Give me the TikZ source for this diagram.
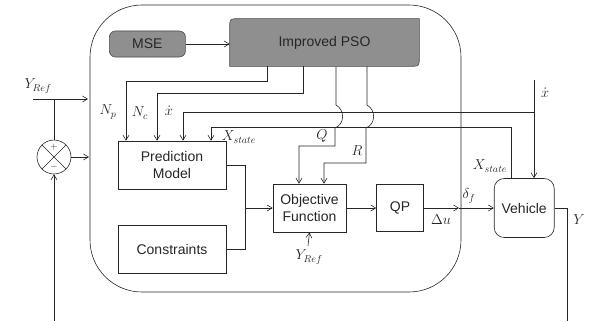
\documentclass[tikz,border=0pt]{standalone}
\usepackage{fontspec}
\setmainfont{Liberation Sans}
\usetikzlibrary{arrows.meta, positioning, calc}

\begin{document}
\begin{tikzpicture}[
		x=1pt, y=-1pt,
		every node/.style={font=\fontsize{14}{17}\selectfont},
		block/.style={draw, rectangle, align=center, inner sep=2pt},
		grey/.style={draw=black!70, fill=black!44},
		sumcirc/.style={draw, circle, minimum size=34pt, inner sep=0pt},
		arr/.style={-{Straight Barb[length=5pt,width=6pt]}},
		line width=0.6pt, black!85
		]
		\useasboundingbox (0,0) rectangle (593,321);
		% controller frame
		\draw[rounded corners=52pt] (90,5) rectangle (461,292);
		
		% blocks
		\node[minimum width=189pt, minimum height=47pt] at (324.5,42.5) (pso) {};
		\filldraw[grey] (pso.south west) -- ([yshift=-9pt]pso.north west) .. controls (pso.north west) .. ([xshift=9pt]pso.north west) -- (pso.north east) -- ([yshift=9pt]pso.south east) .. controls (pso.south east) .. ([xshift=-9pt]pso.south east) -- cycle;
		\node at (pso.center) (psotext) {Improved PSO};
		\node[grey, rounded corners=6pt, minimum width=76pt, minimum height=26pt, left = 44pt of pso, yshift=-1.5pt] (mse) {MSE};
		\node[block, minimum width=108pt, minimum height=48pt] at (172,165) (pred) {Prediction\\Model};
		\node[block, minimum width=108pt, minimum height=48pt, below = 36pt of pred] (cons) {Constraints};
		\node[block, minimum width=73pt, minimum height=48pt] at (309.5,208) (obj) {Objective\\Function};
		\node[block, minimum width=47pt, minimum height=47pt, right = 30pt of obj] (qp) {QP};
		\node[block, rounded corners=10pt, minimum width=60pt, minimum height=59pt, right = 70pt of qp] (veh) {Vehicle};
		\node[sumcirc] at (54,157) (sum) {};
		\draw (sum.north west) -- (sum.south east);
		\draw (sum.north east) -- (sum.south west);
		\node[font=\small, inner sep=0pt] at ([yshift=10pt]sum.center) (plus) {$+$};
		\node[font=\small, inner sep=0pt] at ([yshift=-10pt]sum.center) (minus) {$-$};
		
		% free ends
		\coordinate (yref) at (33,99);
		\coordinate (xin) at (534,80);
		\coordinate (yout) at (567,321);
		\coordinate (fb) at (54,321);
		\coordinate (merge) at (245,208);
		
		% reference and feedback
		\draw[arr] (yref) -- (88,99);
		\draw (54,99) -- (sum.north);
		\draw[arr] (sum.east) -- (89,157);
		\draw[arr] (fb) -- (sum.south);
		\draw (veh.east) -| (yout);
		
		% PSO parameters
		\draw[arr] (mse) -- (pso.west |- mse);
		\draw[arr] (267,0 |- pso.south) |- (126,81) -- (126,0 |- pred.north);
		\draw[arr] (303,0 |- pso.south) |- (157,93) -- (157,0 |- pred.north);
		\draw[arr] (336,0 |- pso.south) -- (336,105) .. controls (345,110) and (345,124) .. (335,128) |- (299,146) -- (299,0 |- obj.north);
		\draw[arr] (367,0 |- pso.south) -- (367,105) .. controls (376,110) and (376,124) .. (366,128) |- (324,163) -- (324,0 |- obj.north);
		
		% states
		\draw[arr] (xin) -- (534,0 |- veh.north);
		\draw[arr] (534,112) -| (183,0 |- pred.north);
		\draw[arr] (511,0 |- veh.north) |- (211,127) -- (211,0 |- pred.north);
		
		% main path
		\draw (pred.east) -| (merge);
		\draw (cons.east) -| (merge);
		\draw[arr] (merge) -- (obj.west);
		\draw[arr] (obj.east) -- (qp.west);
		\draw[arr] (qp.east) -- (459,208);
		\draw[arr] (459,208) -- (veh.west);
		\draw[arr] (308,246) -- (obj.south);
		
		% labels
		\node at (38,86) (lyref) {$Y_{Ref}$};
		\node at (108,112) (lnp) {$N_p$};
		\node at (140,113) (lnc) {$N_c$};
		\node at (169,111) (lxd) {$\dot{x}$};
		\node at (239,137) (lxs) {$X_{state}$};
		\node at (322,136) (lq) {$Q$};
		\node at (357,151) (lr) {$R$};
		\node at (309,257) (lyref2) {$Y_{Ref}$};
		\node at (441,220) (ldu) {$\Delta u$};
		\node at (469,196) (ldf) {$\delta_f$};
		\node at (490,166) (lxs2) {$X_{state}$};
		\node at (545,93) (lxd2) {$\dot{x}$};
		\node at (579,220) (ly) {$Y$};
		
	\end{tikzpicture}
\end{document}
